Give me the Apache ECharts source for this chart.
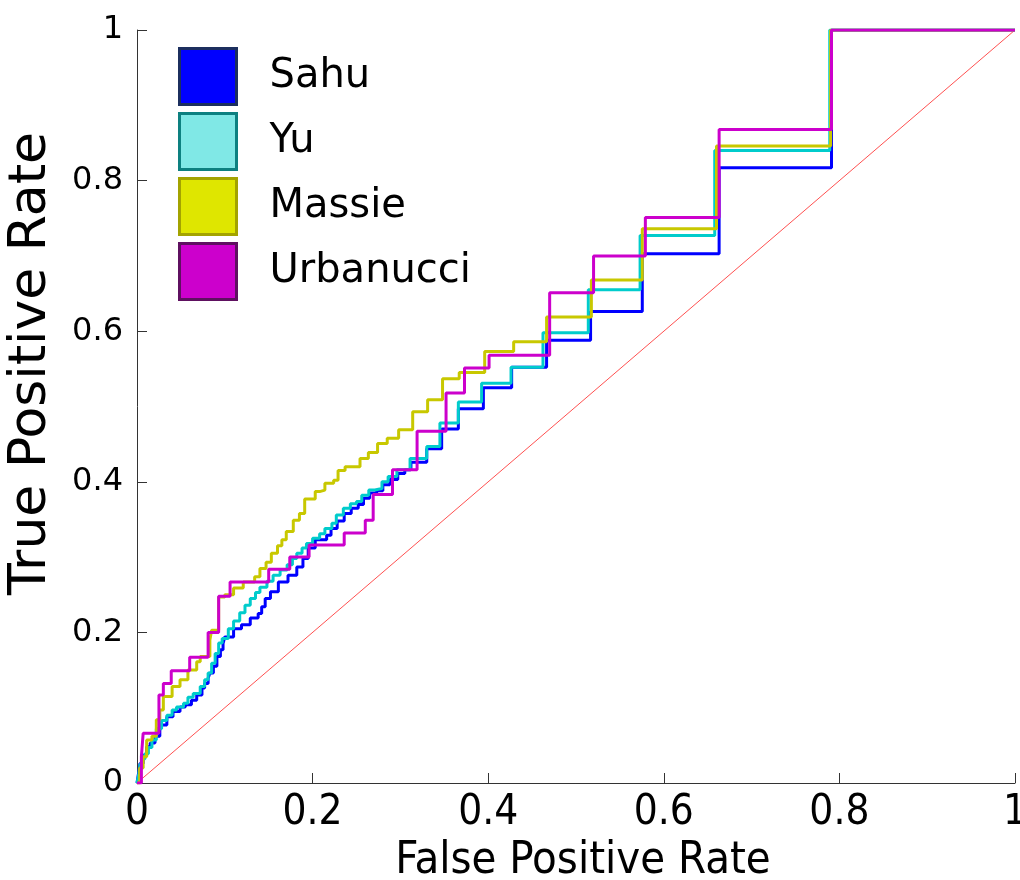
<!DOCTYPE html>
<html>
<head>
<meta charset="utf-8">
<script src="https://cdn.jsdelivr.net/npm/echarts@6/dist/echarts.min.js"></script>
<style>
  html, body { margin: 0; padding: 0; background: #fff; }
  #chart { width: 1020px; height: 880px; }
</style>
</head>
<body>
<div id="chart"></div>
<script>
// ROC curves, each point = [fpr where the level starts, tpr level]
var seriesNames = ["Sahu", "Yu", "Massie", "Urbanucci"];

var sahu = [[0,0],[0.002,0.015],[0.0034,0.026],[0.007,0.037],[0.011,0.048],[0.015,0.053],[0.0205,0.062],
  [0.026,0.077],[0.034,0.088],[0.041,0.095],[0.049,0.101],[0.055,0.104],[0.062,0.110],[0.068,0.117],
  [0.074,0.126],[0.077,0.132],[0.081,0.139],[0.083,0.146],[0.087,0.155],[0.091,0.168],[0.095,0.177],
  [0.098,0.185],[0.100,0.194],[0.110,0.205],[0.119,0.210],[0.129,0.219],[0.138,0.225],[0.142,0.234],
  [0.146,0.245],[0.152,0.254],[0.161,0.267],[0.172,0.276],[0.182,0.287],[0.189,0.298],[0.195,0.312],
  [0.203,0.323],[0.216,0.329],[0.221,0.338],[0.228,0.348],[0.236,0.358],[0.244,0.365],[0.252,0.370],
  [0.258,0.378],[0.265,0.385],[0.273,0.388],[0.280,0.396],[0.288,0.403],[0.297,0.411],[0.305,0.416],
  [0.312,0.426],[0.330,0.444],[0.347,0.470],[0.366,0.497],[0.3945,0.525],[0.4267,0.552],[0.4665,0.588],
  [0.5166,0.626],[0.5755,0.703],[0.663,0.817],[0.791,1],[1,1]];

var yu = [[0,0],[0.002,0.012],[0.0034,0.025],[0.006,0.032],[0.009,0.039],[0.013,0.047],[0.017,0.057],
  [0.022,0.072],[0.028,0.083],[0.034,0.090],[0.040,0.097],[0.045,0.101],[0.053,0.106],[0.058,0.114],
  [0.064,0.119],[0.072,0.128],[0.077,0.137],[0.081,0.146],[0.085,0.159],[0.089,0.172],[0.093,0.186],
  [0.097,0.192],[0.104,0.205],[0.110,0.215],[0.117,0.226],[0.123,0.236],[0.129,0.245],[0.135,0.253],
  [0.140,0.260],[0.148,0.268],[0.155,0.276],[0.163,0.283],[0.171,0.290],[0.177,0.298],[0.182,0.305],
  [0.188,0.312],[0.193,0.318],[0.200,0.325],[0.208,0.331],[0.214,0.338],[0.222,0.345],[0.227,0.356],
  [0.235,0.365],[0.243,0.371],[0.250,0.374],[0.256,0.382],[0.264,0.389],[0.271,0.391],[0.279,0.400],
  [0.286,0.407],[0.296,0.416],[0.311,0.431],[0.330,0.447],[0.345,0.478],[0.366,0.506],[0.3925,0.531],
  [0.426,0.552],[0.4624,0.598],[0.514,0.655],[0.573,0.727],[0.658,0.840],[0.789,1],[1,1]];

var massie = [[0,0],[0.003,0.020],[0.007,0.035],[0.011,0.057],[0.017,0.062],[0.022,0.084],[0.026,0.097],
  [0.030,0.115],[0.040,0.128],[0.049,0.137],[0.058,0.150],[0.068,0.161],[0.072,0.168],[0.083,0.190],
  [0.085,0.203],[0.093,0.247],[0.100,0.250],[0.110,0.259],[0.121,0.267],[0.134,0.274],[0.140,0.285],
  [0.147,0.293],[0.153,0.305],[0.160,0.315],[0.165,0.323],[0.170,0.334],[0.178,0.349],[0.185,0.358],
  [0.191,0.377],[0.203,0.387],[0.208,0.389],[0.214,0.398],[0.224,0.402],[0.229,0.415],[0.237,0.420],
  [0.254,0.431],[0.2635,0.439],[0.274,0.451],[0.285,0.458],[0.298,0.469],[0.314,0.493],[0.331,0.509],
  [0.348,0.537],[0.367,0.545],[0.396,0.573],[0.429,0.586],[0.4665,0.619],[0.5175,0.668],[0.5755,0.736],
  [0.660,0.846],[0.790,1],[1,1]];

var urbanucci = [[0,0],[0.005,0.035],[0.007,0.066],[0.025,0.117],[0.030,0.132],[0.039,0.149],[0.060,0.167],
  [0.081,0.200],[0.093,0.248],[0.106,0.267],[0.150,0.284],[0.174,0.300],[0.196,0.316],[0.236,0.332],
  [0.260,0.349],[0.269,0.383],[0.291,0.416],[0.319,0.467],[0.352,0.518],[0.373,0.551],[0.401,0.568],
  [0.470,0.651],[0.520,0.700],[0.579,0.751],[0.663,0.868],[0.791,1],[1,1]];

var chance = [[0,0],[1,1]];

var lineColors = ["#0000ff", "#00cccc", "#c8c800", "#cc00cc"];
var boxFill = ["#0000ff", "#80e8e6", "#dfe600", "#cc00cc"];
var boxEdge = ["#1c2f5e", "#0d8080", "#a3a300", "#5e1060"];

var curves = [sahu, yu, massie, urbanucci];
var narrowFont = "'Liberation Sans Narrow', 'DejaVu Sans Condensed', 'DejaVu Sans'";

var series = [{
    name: "chance",
    type: "line",
    data: chance,
    symbol: "none",
    lineStyle: { color: "#ff5050", width: 1 },
    z: 1
}];
curves.forEach(function (d, i) {
    series.push({
        name: seriesNames[i],
        type: "line",
        data: d,
        step: "end",
        symbol: "none",
        lineStyle: { color: lineColors[i], width: 3 },
        itemStyle: { color: lineColors[i] },
        z: 2 + i
    });
});

var option = {
    animation: false,
    backgroundColor: "#fff",
    grid: { left: 137, right: 5, top: 30, bottom: 97, containLabel: false, outerBoundsMode: "none" },
    legend: {
        orient: "vertical",
        left: 178,
        top: 47,
        padding: 0,
        itemWidth: 57,
        itemHeight: 56,
        itemGap: 6,
        icon: "rect",
        selectedMode: false,
        textStyle: { fontFamily: "DejaVu Sans", fontSize: 40, color: "#000", padding: [0, 0, 0, 28] },
        data: seriesNames.map(function (n, i) {
            return { name: n, itemStyle: { color: boxFill[i], borderColor: boxEdge[i], borderWidth: 3 } };
        })
    },
    xAxis: {
        type: "value",
        min: 0, max: 1, interval: 0.2,
        name: "False Positive Rate",
        nameLocation: "middle",
        nameGap: 34,
        nameTextStyle: { fontFamily: narrowFont, fontSize: 45, color: "#000", padding: [0, 0, 0, 14] },
        axisLine: { lineStyle: { color: "#333", width: 1 } },
        axisTick: { inside: true, length: 10, lineStyle: { color: "#333" } },
        axisLabel: { margin: 9, fontFamily: narrowFont, fontSize: 42, color: "#000" },
        splitLine: { show: false }
    },
    yAxis: {
        type: "value",
        min: 0, max: 1, interval: 0.2,
        name: "True Positive Rate",
        nameLocation: "middle",
        nameGap: 80,
        nameTextStyle: { fontFamily: "DejaVu Sans", fontSize: 52, color: "#000", padding: [0, 0, 0, 86] },
        axisLine: { lineStyle: { color: "#333", width: 1 } },
        axisTick: { inside: true, length: 10, lineStyle: { color: "#333" } },
        axisLabel: { margin: 14, fontFamily: "DejaVu Sans", fontSize: 32, color: "#000" },
        splitLine: { show: false }
    },
    series: series
};

echarts.init(document.getElementById("chart")).setOption(option);
</script>
</body>
</html>
